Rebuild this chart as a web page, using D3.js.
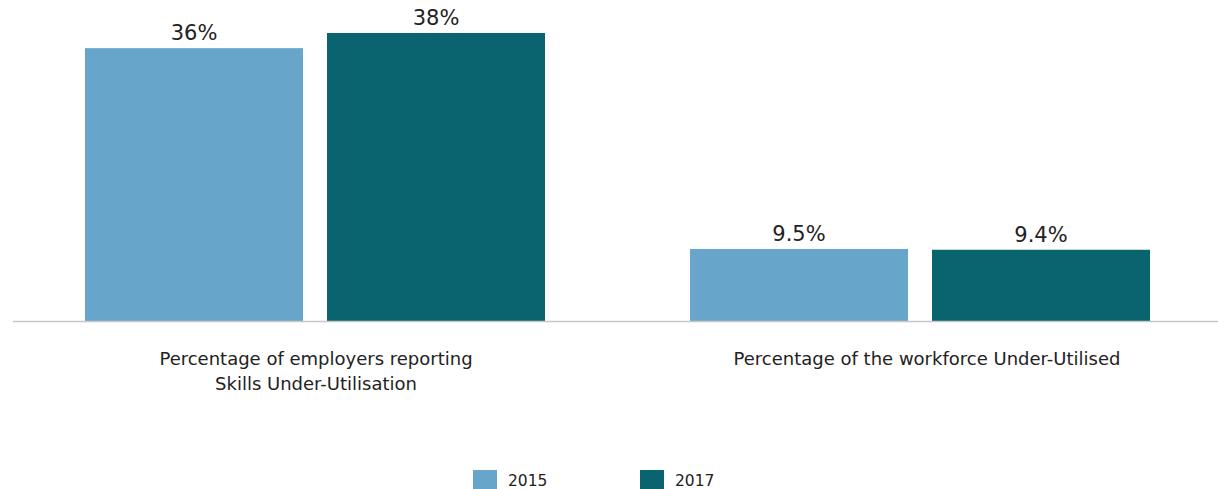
<!DOCTYPE html>
<html><head><meta charset="utf-8">
<script src="https://cdn.jsdelivr.net/npm/d3@7"></script>
<style>body{margin:0;background:#fff}svg{display:block}text{font-family:"DejaVu Sans",sans-serif;fill:#222}</style>
</head><body><svg id="c" width="1218" height="489"></svg>
<script>
const categories = [["Percentage of employers reporting","Skills Under-Utilisation"],["Percentage of the workforce Under-Utilised"]];
const categoryKeys = ["employers","workforce"];
const seriesNames = ["2015","2017"];
const values2015 = [36, 9.5];
const values2017 = [38, 9.4];
const valueLabels2015 = ["36%","9.5%"];
const valueLabels2017 = ["38%","9.4%"];
const colors = ["#68a5cb","#0a6470"];

const svg = d3.select("#c");
const baseY = 321;
const y = d3.scaleLinear().domain([0,38]).range([baseY,33]);
const x0 = d3.scaleBand().domain(categoryKeys).range([13,1223]);
const x1 = d3.scaleBand().domain(seriesNames).range([72,532]).paddingInner(24/242);
const color = d3.scaleOrdinal().domain(seriesNames).range(colors);

const data = categoryKeys.map((k,i)=>({key:k, lines:categories[i], vals:[
  {s:"2015", v:values2015[i], l:valueLabels2015[i]},
  {s:"2017", v:values2017[i], l:valueLabels2017[i]}]}));

const g = svg.selectAll("g.grp").data(data).join("g").attr("class","grp")
  .attr("transform", d=>`translate(${x0(d.key)},0)`);
g.selectAll("rect").data(d=>d.vals).join("rect")
  .attr("x", d=>x1(d.s)).attr("width", x1.bandwidth())
  .attr("y", d=>y(d.v)).attr("height", d=>baseY-y(d.v))
  .attr("fill", d=>color(d.s));
g.selectAll("text.val").data(d=>d.vals).join("text").attr("class","val")
  .attr("x", d=>x1(d.s)+x1.bandwidth()/2).attr("y", d=>y(d.v)-8)
  .attr("text-anchor","middle").style("font-size","21px").text(d=>d.l);

svg.append("line").attr("x1",13).attr("x2",1218).attr("y1",baseY+0.5).attr("y2",baseY+0.5)
  .attr("stroke","#c8c8c8").attr("stroke-width",1.5);

g.each(function(d){
  const t = d3.select(this).append("text").attr("text-anchor","middle").style("font-size","18px");
  d.lines.forEach((ln,i)=>t.append("tspan").attr("x",d.key==="employers"?303:309).attr("y",365+i*25).text(ln));
});

const leg = svg.append("g");
const legX = [473,640];
seriesNames.forEach((s,i)=>{
  leg.append("rect").attr("x",legX[i]).attr("y",470).attr("width",24).attr("height",19).attr("fill",color(s));
  leg.append("text").attr("x",legX[i]+35).attr("y",486).style("font-size","15.5px").text(s);
});
</script></body></html>
